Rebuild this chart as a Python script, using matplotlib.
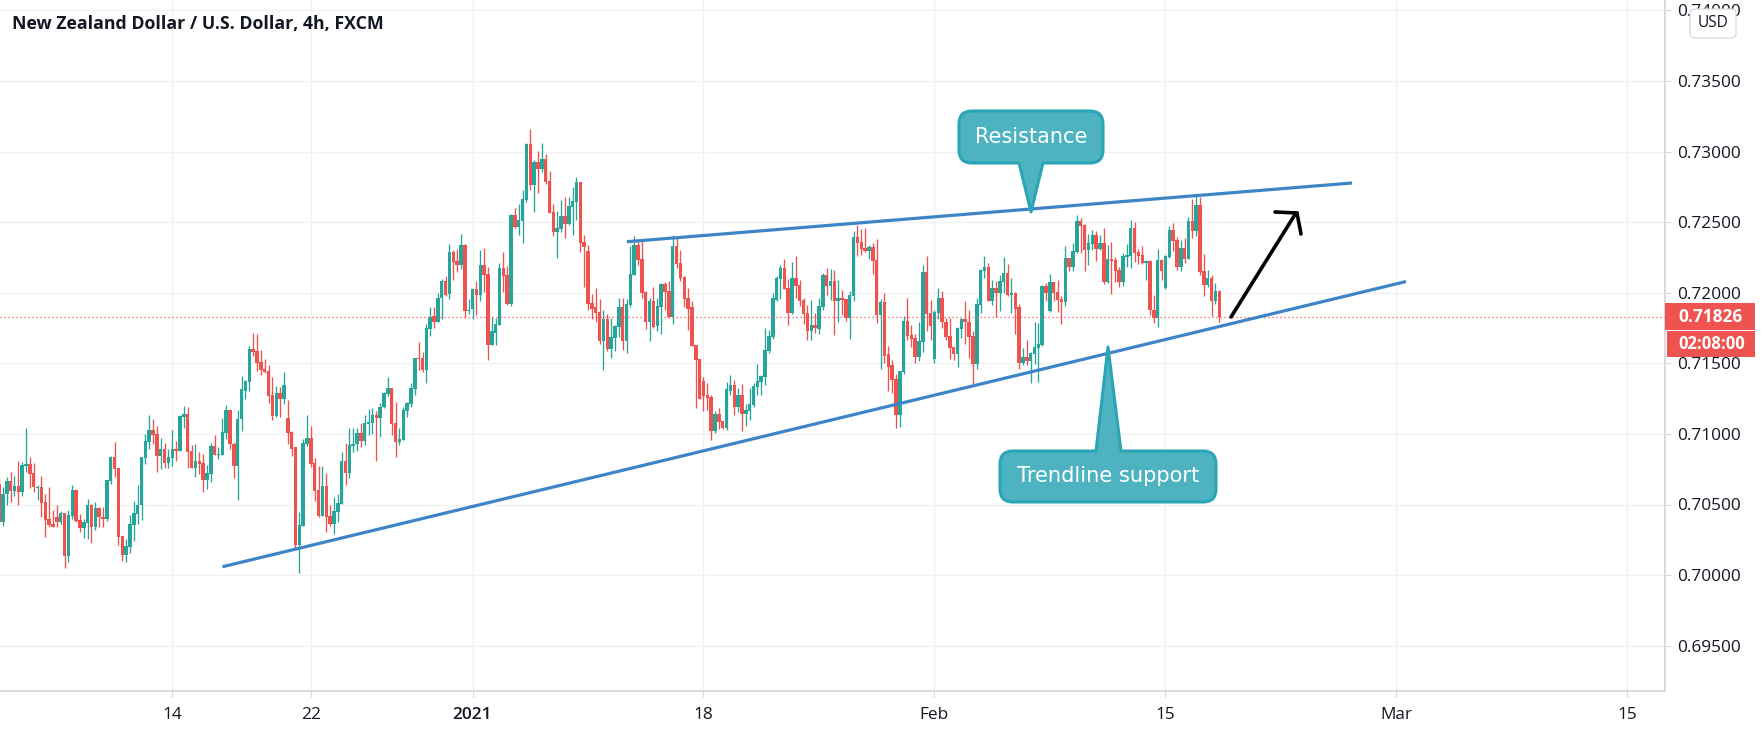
import matplotlib
matplotlib.use("Agg")
import matplotlib.pyplot as plt
from matplotlib.patches import PathPatch, FancyBboxPatch, Rectangle
from matplotlib.path import Path
import numpy as np

# prices in 1e-5 USD, one entry per 4h candle
highs = [70693,70622,70698,70733,70705,70811,70804,71045,70833,70797,
70641,70705,70571,70627,70464,70493,70457,70443,70464,70641,
70606,70436,70400,70542,70507,70521,70485,70485,70670,70840,
70946,70755,70280,70259,70429,70528,70641,70833,70996,71137,
71102,71059,70974,70939,70896,71031,70953,71137,71201,71187,
70918,70925,70875,70861,70783,70939,70989,70904,71116,71208,
71173,70946,71166,71407,71385,71619,71718,71704,71591,71527,
71485,71400,71336,71329,71435,71237,71017,70904,70450,70967,
71137,71059,70826,70776,70776,70726,70493,70556,70571,70875,
70939,71045,71045,71045,71074,71137,71173,71180,71159,71222,
71300,71400,71322,71229,71045,71194,71229,71364,71541,71648,
71577,71775,71896,71896,71995,72094,72115,72342,72299,72307,
72413,72342,71952,72030,72080,72299,72314,72179,71825,71818,
72207,72285,72186,72555,72597,72625,72725,73058,73157,72937,
73001,73058,72980,72859,72625,72576,72654,72675,72675,72746,
72817,72781,72406,72335,71988,72030,71952,71881,71846,71818,
71768,71959,71959,71952,72328,72399,72370,72363,72009,71966,
72037,71966,72066,72073,72080,72406,72392,72299,72115,72030,
71938,71633,71527,71400,71357,71279,71159,71180,71088,71371,
71414,71385,71322,71350,71215,71322,71357,71492,71414,71747,
71733,71995,72115,72193,72236,72094,72214,72257,72087,71959,
71910,71945,71853,71959,72137,72172,72165,72158,72087,72016,
71957,72009,72434,72477,72448,72455,72335,72349,72377,71952,
71995,71619,71520,71421,71449,71832,71959,71768,71704,71789,
72193,72257,71945,71874,72030,72009,71818,71818,71612,71754,
71818,71938,71874,71726,71966,72165,72257,72207,72087,72080,
72122,72250,72200,72101,72002,71917,71605,71662,71577,71796,
71782,72051,72066,72129,72073,72087,71974,72328,72243,72349,
72547,72526,72484,72413,72441,72434,72406,72455,72335,72356,
72250,72179,72278,72342,72512,72498,72307,72328,72229,72229,
71981,72307,72236,72264,72470,72491,72392,72370,72385,72533,
72661,72682,72675,72271,72158,72122,72066,72016]

body_tops = [70646,70575,70663,70663,70634,70634,70783,70790,70790,70726,
70627,70627,70521,70400,70365,70415,70443,70443,70429,70606,
70606,70393,70379,70500,70500,70478,70478,70415,70670,70833,
70833,70755,70280,70209,70365,70443,70500,70833,70953,71031,
71031,70996,70896,70896,70833,70896,70896,71130,71144,71144,
70882,70811,70811,70797,70726,70911,70911,70861,71010,71166,
71166,70932,71109,71315,71378,71598,71598,71584,71506,71463,
71442,71272,71293,71293,71343,71116,71010,70904,70358,70939,
70974,70974,70797,70606,70634,70634,70422,70457,70514,70811,
70811,70918,70932,71003,71003,71074,71081,71137,71137,71194,
71293,71322,71322,71074,70967,71166,71222,71322,71541,71541,
71534,71747,71825,71832,71966,72080,72080,72285,72285,72222,
72335,72335,71874,72023,72023,72193,72193,72129,71726,71775,
72172,72172,72122,72547,72547,72512,72661,73051,73051,72923,
72923,72944,72944,72788,72569,72455,72540,72540,72611,72647,
72781,72781,72356,72292,71924,71896,71860,71811,71811,71683,
71761,71896,71896,71917,72129,72335,72335,72236,72002,71938,
71938,71903,72059,72059,72009,72328,72328,72207,72108,71959,
71896,71633,71527,71378,71272,71258,71144,71144,71088,71315,
71343,71343,71279,71279,71166,71215,71336,71378,71407,71591,
71690,71959,72101,72172,72172,72030,72101,72101,72051,71945,
71853,71768,71768,71903,72122,72122,72080,72080,71966,71966,
71952,71981,72392,72392,72356,72314,72321,72321,72229,71931,
71931,71563,71485,71392,71442,71803,71803,71697,71676,71655,
72144,72144,71853,71860,71966,71966,71796,71690,71612,71747,
71811,71811,71796,71690,71917,72158,72179,72179,72030,72030,
72080,72137,72137,71995,71995,71896,71548,71548,71570,71612,
71640,72044,72044,72073,72073,72002,71952,72243,72243,72292,
72505,72505,72477,72349,72406,72406,72349,72349,72236,72236,
72229,72158,72257,72264,72455,72455,72285,72264,72222,72222,
71881,72229,72229,72257,72441,72441,72370,72314,72314,72505,
72505,72618,72618,72151,72101,72101,72009,72009]

body_bottoms = [70374,70374,70571,70599,70599,70585,70585,70776,70719,70622,
70620,70514,70393,70358,70344,70379,70379,70138,70138,70422,
70386,70337,70337,70372,70344,70344,70408,70400,70400,70663,
70748,70273,70145,70145,70202,70358,70436,70493,70826,70946,
70989,70847,70847,70797,70797,70826,70882,70882,71123,70875,
70762,70762,70790,70670,70670,70719,70854,70854,70854,71003,
70925,70776,70776,71102,71307,71371,71577,71499,71456,71435,
71265,71130,71130,71244,71244,71003,70896,70216,70216,70351,
70932,70790,70599,70422,70422,70415,70365,70365,70450,70507,
70726,70726,70911,70925,70953,70953,71067,71074,71116,71116,
71187,71286,71067,70946,70946,70960,71159,71215,71315,71527,
71456,71456,71740,71796,71796,71959,71981,71988,72214,72193,
72193,71867,71867,71888,71981,71981,72122,71633,71633,71718,
71768,72115,71917,71917,72462,72462,72505,72654,72760,72760,
72873,72873,72781,72562,72427,72427,72448,72484,72484,72604,
72640,72349,72321,71917,71888,71853,71655,71655,71598,71598,
71676,71754,71655,71655,71910,72122,72229,71995,71789,71789,
71754,71761,71896,72002,71825,71825,72200,72101,71952,71888,
71626,71520,71244,71265,71251,71024,71024,71081,71045,71045,
71307,71194,71194,71144,71144,71159,71208,71329,71371,71400,
71584,71683,71945,72094,72023,71853,71853,72044,71938,71846,
71726,71726,71747,71740,71896,72044,72044,71938,71938,71945,
71818,71818,71974,72349,72307,72292,72292,72222,71839,71839,
71555,71477,71385,71137,71137,71435,71690,71669,71548,71548,
71648,71846,71761,71527,71853,71789,71683,71605,71563,71563,
71740,71789,71683,71492,71492,71910,72151,71938,71938,71995,
71995,72073,71981,71981,71888,71499,71499,71513,71513,71563,
71605,71633,71995,71867,71995,71945,71931,71931,72179,72179,
72285,72470,72299,72299,72342,72307,72307,72073,72073,72222,
72151,72073,72073,72250,72257,72278,72257,72207,72207,71874,
71818,71818,72151,72030,72250,72363,72179,72179,72236,72236,
72434,72434,72144,72051,72051,71938,71938,71826]

lows = [70363,70351,70495,70521,70563,70500,70563,70733,70620,70585,
70535,70415,70273,70344,70344,70344,70365,70053,70096,70400,
70379,70308,70266,70259,70230,70322,70344,70344,70386,70648,
70698,70216,70103,70096,70160,70245,70365,70393,70790,70896,
70932,70733,70748,70762,70755,70776,70811,70882,71045,70762,
70762,70698,70719,70585,70613,70656,70854,70819,70854,70967,
70896,70691,70535,71017,71244,71307,71555,71442,71414,71428,
71222,71095,71123,71123,71215,70932,70840,70195,70018,70351,
70911,70769,70528,70408,70422,70308,70351,70294,70379,70507,
70641,70691,70875,70882,70904,70918,70989,70996,70811,70981,
71180,71265,70989,70833,70918,70960,71123,71187,71279,71456,
71435,71364,71690,71747,71789,71811,71974,71952,72087,72144,
72165,71818,71846,71811,71839,71938,72002,71520,71633,71633,
71768,72002,71910,71903,72455,72406,72349,72640,72725,72569,
72703,72852,72767,72562,72399,72243,72427,72385,72477,72406,
72512,72285,72037,71874,71811,71789,71640,71456,71584,71541,
71584,71683,71591,71570,71896,72122,72193,71959,71740,71655,
71747,71726,71704,71881,71818,71775,72172,72080,71896,71733,
71626,71180,71244,71159,71166,70960,71003,71038,71038,71031,
71279,71137,71152,71017,71059,71095,71194,71279,71279,71343,
71570,71669,71938,71952,72023,71768,71846,71959,71903,71775,
71662,71662,71718,71704,71874,71981,71945,71697,71796,71839,
71803,71669,71938,72257,72264,72285,72236,72129,71782,71463,
71499,71307,71293,71045,71052,71421,71662,71612,71499,71513,
71577,71726,71662,71499,71811,71747,71662,71527,71520,71477,
71676,71640,71541,71343,71463,71853,72101,71938,71910,71825,
71867,71995,71974,71853,71704,71463,71485,71485,71357,71492,
71371,71619,71938,71860,71938,71860,71775,71903,72151,72151,
72278,72278,72151,72193,72299,72222,72299,72059,72066,71988,
72073,72037,72044,72179,72172,72214,72200,72200,72087,71839,
71782,71754,72087,72023,72243,72292,72158,72151,72207,72236,
72385,72399,72122,71974,72037,71832,71917,71796]

directions = ("RGGRGRGGRR" "GRRRRRGRGG" "RRGGRGRRGG" "RRRGGGGGGG" "RRGRGGRGGR"
              "RGRRGGRGGG" "RRGGGGRRRR" "RRGRGRRRGG" "GRRRGRRGGG" "RGGGRGGGRG"
              "GGRRGGGGGR" "RGGRGGRGRR" "GRGGRGRRGG" "GRRGRGGGRG" "RGRRRGGRGG"
              "GRRRRRRGRG" "GGRGGGRRRG" "RGGRRGRRRR" "RRRRRRGRRG" "GRGRGGGGGG"
              "GGGGRRGRRR" "RGRGGRGRGR" "RGGRRRGRRG" "RRRRGGRRRG" "GRRGGRRRRG"
              "GRRRGGGRGR" "GGRGRRGRGG" "GGRGRRRGRG" "GRRGGRGRGR" "RRGGGRRRGR"
              "RGRGGRRGRG" "RGRRGRGR")

date_ticks = [45, 81, 123, 183, 243, 303, 363, 423]
date_labels = ["14", "22", "2021", "18", "Feb", "15", "Mar", "15"]
price_ticks = [0.695, 0.70, 0.705, 0.71, 0.715, 0.72, 0.725, 0.73, 0.735, 0.74]
last_price = 0.71826
resistance_x = [163.1, 351.5]
resistance_y = [0.72361, 0.72777]
support_x = [58.0, 365.5]
support_y = [0.70059, 0.72079]

GREEN, RED = "#26a69a", "#ef5350"
TEXT = "#131722"
W, H = 1761, 735
PLOT_R, PLOT_B = 1665, 691
FONT = "Open Sans"

fig = plt.figure(figsize=(W / 100, H / 100), dpi=100, facecolor="white")
ax = fig.add_axes([0, 1 - PLOT_B / H, PLOT_R / W, PLOT_B / H])
ax.set_xlim(0.234, 432.8)
ax.set_ylim(0.72 - (PLOT_B - 292.7) / 14120, 0.72 + 292.7 / 14120)

idx = np.arange(len(highs))
hi = np.array(highs) / 1e5
lo = np.array(lows) / 1e5
top = np.array(body_tops) / 1e5
bot = np.array(body_bottoms) / 1e5
cols = [GREEN if d == "G" else RED for d in directions]

ax.vlines(idx, lo, hi, colors=cols, linewidth=0.95, zorder=3)
ax.bar(idx, top - bot, bottom=bot, width=0.9, color=cols, linewidth=0, zorder=4)

ax.grid(True, color="#f0f1f3", linewidth=1.0, zorder=0)
ax.set_axisbelow(True)
for s in ["top", "left"]:
    ax.spines[s].set_visible(False)
for s in ["right", "bottom"]:
    ax.spines[s].set_color("#d6d8dc")
    ax.spines[s].set_linewidth(1.3)

ax.yaxis.tick_right()
ax.set_yticks(price_ticks, [f"{p:.5f}" for p in price_ticks])
ax.set_xticks(date_ticks, date_labels)
ax.tick_params(axis="y", length=4.5, width=0.8, color="#d6d8dc", pad=4.5,
               labelsize=12.4, labelcolor=TEXT)
ax.tick_params(axis="x", length=4.5, width=0.8, color="#d6d8dc", pad=7,
               labelsize=12.4, labelcolor=TEXT)
for t in ax.get_xticklabels() + ax.get_yticklabels():
    t.set_fontfamily(FONT)
    t.set_clip_on(False)
ax.get_xticklabels()[2].set_fontweight("semibold")

ax.axhline(last_price, color=RED, linewidth=0.9, linestyle=(0, (1, 2.2)), zorder=5)
ax.plot(resistance_x, resistance_y, color="#3d85c6", linewidth=2.3, zorder=6,
        solid_capstyle="butt")
ax.plot(support_x, support_y, color="#3d85c6", linewidth=2.3, zorder=6,
        solid_capstyle="butt")

# overlay in pixel coordinates for drawn annotations and price tags
ov = fig.add_axes([0, 0, 1, 1], facecolor="none")
ov.set_xlim(0, W)
ov.set_ylim(H, 0)
ov.axis("off")


def callout(x0, y0, x1, y1, r, tail_l, tail_r, tip_y, tip_x, text, fs):
    v = [(x0 + r, y0), (x1 - r, y0), (x1, y0), (x1, y0 + r)]
    c = [Path.MOVETO, Path.LINETO, Path.CURVE3, Path.CURVE3]
    v += [(x1, y1 - r), (x1, y1), (x1 - r, y1)]
    c += [Path.LINETO, Path.CURVE3, Path.CURVE3]
    if tip_y > y1:
        v += [(tail_r, y1), (tip_x, tip_y), (tail_l, y1)]
        c += [Path.LINETO] * 3
    v += [(x0 + r, y1), (x0, y1), (x0, y1 - r), (x0, y0 + r), (x0, y0), (x0 + r, y0)]
    c += [Path.LINETO, Path.CURVE3, Path.CURVE3, Path.LINETO, Path.CURVE3, Path.CURVE3]
    if tip_y < y0:
        v = [(x0 + r, y0), (tail_l, y0), (tip_x, tip_y), (tail_r, y0)] + v[1:]
        c = [Path.MOVETO, Path.LINETO, Path.LINETO, Path.LINETO] + c[1:]
    ov.add_patch(PathPatch(Path(v, c), facecolor=(33/255, 160/255, 178/255, 0.8),
                           edgecolor="#2aa5b5", linewidth=2.2, joinstyle="round", zorder=8))
    ov.text((x0 + x1) / 2, (y0 + y1) / 2 - 0.5, text, color="white", fontsize=fs,
            ha="center", va="center", family="DejaVu Sans", zorder=9)


callout(959, 111, 1103, 163, 13, 1019, 1043, 212, 1031, "Resistance", 15.0)
callout(1000, 451, 1216, 502, 13, 1096, 1121, 347, 1108, "Trendline support", 15.1)

# arrow
ov.plot([1231, 1296], [317, 213], color="black", linewidth=2.6, solid_capstyle="round", zorder=7)
ov.plot([1275, 1297, 1301], [212, 213, 234], color="black", linewidth=2.6,
        solid_joinstyle="miter", solid_capstyle="round", zorder=7)

# title
ov.text(12, 24, "New Zealand Dollar / U.S. Dollar, 4h, FXCM", fontsize=12.8, fontweight="bold",
        color=TEXT, family="Open Sans", ha="left", va="center", zorder=10)

# price tags
ov.add_patch(Rectangle((1665, 303), 90, 27, facecolor=RED, edgecolor="none", zorder=10))
ov.add_patch(Rectangle((1667, 331), 88, 26, facecolor=RED, edgecolor="none", zorder=10))
ov.text(1678, 316.5, f"{last_price:.5f}", color="white", fontsize=12.4, fontweight="bold",
        family=FONT, ha="left", va="center", zorder=11)
ov.text(1678, 344, "02:08:00", color="white", fontsize=12.0, fontweight="bold",
        family=FONT, ha="left", va="center", zorder=11)

# currency badge
ov.add_patch(FancyBboxPatch((1693, 12), 40, 23, boxstyle="round,pad=3,rounding_size=5",
                            facecolor="white", edgecolor="#d6d8e0", linewidth=0.9, zorder=10))
ov.text(1713, 23, "USD", color=TEXT, fontsize=11.2, family=FONT, ha="center", va="center", zorder=11)

fig.savefig("out.png", dpi=100, facecolor="white")
